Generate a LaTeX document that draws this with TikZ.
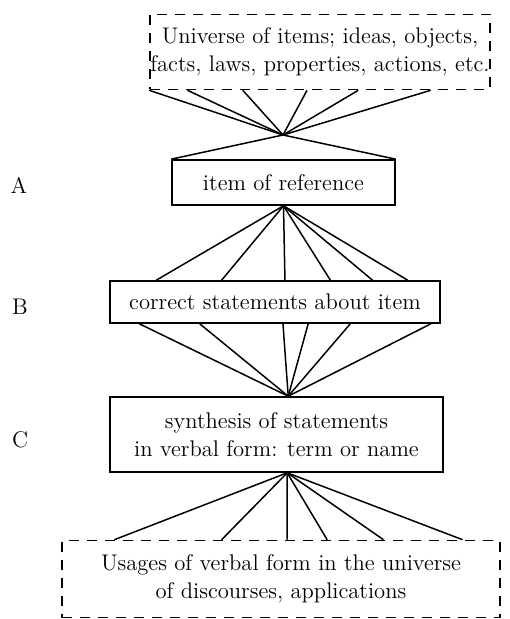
\documentclass[tikz,border=0pt]{standalone}
\usetikzlibrary{calc}

\begin{document}
\begin{tikzpicture}[x=0.5pt,y=-0.5pt,
  every node/.style={font=\fontsize{11.3}{14}\selectfont},
  box/.style={draw,line width=0.8pt,inner sep=0pt,align=center},
  dashbox/.style={box,dash pattern=on 5pt off 4pt},
  fan/.style={line width=0.75pt}]% [ show background grid ]
\useasboundingbox (0,0) rectangle (509,619);

\node[dashbox,minimum width=170pt,minimum height=37.5pt] (universe) at (320,52)
  {Universe of items; ideas, objects,\\facts, laws, properties, actions, etc.};
\node[box,minimum width=111.5pt,minimum height=22.5pt] (item) at (283.5,182.5)
  {item of reference};
\node[box,minimum width=165pt,minimum height=21pt] (stmts) at (275,302)
  {correct statements about item};
\node[box,minimum width=166.5pt,minimum height=37.5pt] (synth) at (276.5,434.5)
  {synthesis of statements\\in verbal form: term or name};
\node[dashbox,minimum width=219pt,minimum height=38.5pt] (usages) at (281,579)
  {Usages of verbal form in the universe\\of discourses, applications};

\node (levelA) at (19,185) {A};
\node (levelB) at (20,307) {B};
\node (levelC) at (20,440) {C};

\coordinate (focus) at (283,135);
\coordinate (synthtop) at ($(synth.north west)!0.535!(synth.north east)$);
\coordinate (synthbot) at ($(synth.south west)!0.532!(synth.south east)$);

\foreach \f in {0,0.112,0.274,0.462,0.612,0.824}
  \draw[fan] ($(universe.south west)!\f!(universe.south east)$) -- (focus);
\draw[fan] (item.north west) -- (focus) -- (item.north east);
\foreach \f in {0.142,0.339,0.530,0.667,0.794,0.900}
  \draw[fan] (item.south) -- ($(stmts.north west)!\f!(stmts.north east)$);
\foreach \f in {0.091,0.273,0.524,0.600,0.727,0.970}
  \draw[fan] ($(stmts.south west)!\f!(stmts.south east)$) -- (synthtop);
\foreach \f in {0.121,0.365,0.514,0.605,0.733,0.913}
  \draw[fan] (synthbot) -- ($(usages.north west)!\f!(usages.north east)$);

\end{tikzpicture}
\end{document}
